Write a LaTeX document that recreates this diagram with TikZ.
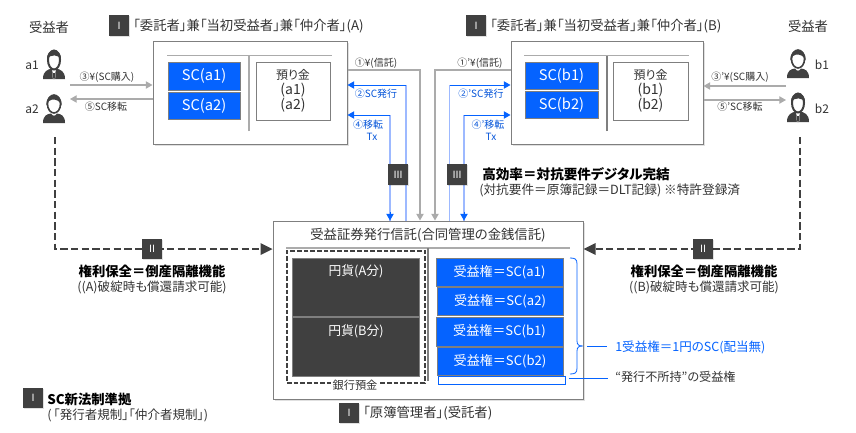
\documentclass[tikz,border=0pt]{standalone}
\usepackage{fontspec}
\setmainfont{Noto Sans CJK JP}[RawFeature={+palt}]
\usetikzlibrary{arrows.meta,shadows}
\definecolor{scblue}{HTML}{0563FF}
\definecolor{paleblue}{HTML}{9DB9FF}
\definecolor{darkbox}{HTML}{404040}
\definecolor{edgegray}{HTML}{7F7F7F}
\definecolor{flowgray}{HTML}{ABABAB}
\definecolor{inktext}{HTML}{333333}
\tikzset{
    sized/.style 2 args={minimum width=#1*0.75pt,minimum height=#2*0.75pt},
    trustbox/.style={draw=edgegray,fill=white,line width=0.75pt,inner sep=0pt,
        drop shadow={shadow xshift=1.2pt,shadow yshift=-1.2pt,fill=black,opacity=0.12}},
    scbox/.style={draw=edgegray,fill=scblue,line width=0.7pt,inner sep=0pt,text=white,font=\fontsize{11}{13}\selectfont},
    rightsbox/.style={draw=edgegray,fill=scblue,line width=0.7pt,inner sep=0pt,text=white,font=\fontsize{9.8}{12}\selectfont},
    cashbox/.style={draw=edgegray,fill=darkbox,line width=0.7pt,inner sep=0pt},
    cashtext/.style={inner sep=0pt,text=white,font=\fontsize{9.6}{12}\selectfont},
    badge/.style={fill=darkbox,text=white,inner sep=0pt,minimum width=15pt,minimum height=15.5pt,font=\fontsize{7.5}{9}\selectfont,
        drop shadow={shadow xshift=0.8pt,shadow yshift=-0.8pt,fill=black,opacity=0.12}},
    txt/.style={inner sep=0pt,text=inktext,font=\fontsize{10}{12}\selectfont},
    small/.style={inner sep=0pt,text=inktext,font=\fontsize{7.5}{9}\selectfont},
    note/.style={inner sep=0pt,text=inktext,font=\fontsize{9.4}{11}\selectfont},
    bluesmall/.style={small,text=scblue!85!black},
    strong/.style={inner sep=0pt,text=black,font=\fontsize{10}{12}\selectfont\bfseries},
    flow/.style={draw=flowgray,line width=0.8pt,-{Triangle[length=5pt,width=5.5pt]}},
    blueflow/.style={draw=scblue,line width=0.7pt,-{Triangle[length=5pt,width=5.5pt]}},
    paleflow/.style={draw=paleblue,line width=1.1pt},
    rightsflow/.style={draw=darkbox,line width=1.9pt,dash pattern=on 5.5pt off 2.5pt},
    thinline/.style={draw=flowgray,line width=0.8pt},
    bluelead/.style={draw=scblue,line width=0.6pt},
    mansign/.pic={
        \fill[darkbox] (-11,14.5) .. controls (-11,6) and (-6,5.5) .. (-3,4) -- (3,4) .. controls (6,5.5) and (11,6) .. (11,14.5) -- cycle;
        \fill[white] (-2,4) -- (2,4) -- (1.4,8) -- (1.2,14.5) -- (-1.2,14.5) -- (-1.4,8) -- cycle;
        \fill[darkbox] (-1,8.5) -- (1,8.5) -- (0.7,14.5) -- (-0.7,14.5) -- cycle;
        \draw[darkbox,fill=white,line width=1.5pt] (0,-4.5) ellipse (6 and 9.5);
        \fill[darkbox] (-7,-5) .. controls (-8,-17) and (8,-17) .. (7,-5) .. controls (5,-10) and (-4,-11) .. (-7,-5) -- cycle;
    },
    womansign/.pic={
        \fill[darkbox] (-11,14.5) .. controls (-11,7) and (-7,5.5) .. (-3,5) .. controls (-1,8) and (1,8) .. (3,5) .. controls (7,5.5) and (11,7) .. (11,14.5) -- cycle;
        \draw[darkbox,fill=white,line width=1.2pt] (0,-4.5) ellipse (6.5 and 9);
        \fill[darkbox] (-7.5,-3) .. controls (-9,-17) and (9,-17) .. (7.5,-3) .. controls (6,-8) and (2,-9) .. (-2,-9) .. controls (-4,-8.5) and (-6.5,-7) .. (-7.5,-3) -- cycle;
    },
}
\begin{document}
\begin{tikzpicture}[x=0.75pt,y=-0.75pt]
    \useasboundingbox (0,0) rectangle (856,432);
    % upper boxes
    \node[trustbox,sized={194}{103}] (boxA) at (250,92.5) {};
    \node[trustbox,sized={192}{103}] (boxB) at (607,92.5) {};
    \node[trustbox,sized={310}{178}] (trust) at (428,310) {};
    \coordinate (lineAl) at (167,55.5);
    \coordinate (lineAr) at (332,55.5);
    \coordinate (lineBl) at (524,55.5);
    \coordinate (lineBr) at (689,55.5);
    \coordinate (lineAb) at (249,131);
    \coordinate (lineBb) at (607,131);
    \draw[thinline] (lineAl) -- (lineAr);
    \draw[thinline] (lineBl) -- (lineBr);
    \draw[thinline] (lineAb) -- (lineAb |- lineAl);
    \draw[thinline,draw=edgegray] (lineBb) -- (lineBb |- lineBl);
    \node[scbox,sized={72}{28}] (sca1) at (204,76) {SC(a1)};
    \node[scbox,sized={72}{27}] (sca2) at (204,106) {SC(a2)};
    \node[scbox,sized={73}{27}] (scb1) at (561.5,75.5) {SC(b1)};
    \node[scbox,sized={73}{27}] (scb2) at (561.5,104.5) {SC(b2)};
    \node[draw=edgegray,line width=0.7pt,sized={74}{58},inner sep=0pt] (depA) at (293,91) {};
    \node[draw=edgegray,line width=0.7pt,sized={75}{58},inner sep=0pt] (depB) at (650.5,91) {};
    \node[txt,font=\fontsize{9}{10}\selectfont] (depAt) at (293,74.5) {預り金};
    \node[txt,align=center,font=\fontsize{10.5}{11.2}\selectfont] (depAm) at (293,97.5) {(a1)\\(a2)};
    \node[txt,font=\fontsize{9}{10}\selectfont] (depBt) at (650.5,74.5) {預り金};
    \node[txt,align=center,font=\fontsize{10.5}{11.2}\selectfont] (depBm) at (650.5,97.5) {(b1)\\(b2)};
    % titles
    \node[badge] (badgeIa) at (119,25.5) {Ⅰ};
    \node[txt,anchor=west] (titleA) at (133,26) {「委託者」兼「当初受益者」兼「仲介者」(A)};
    \node[badge] (badgeIb) at (476,25.5) {Ⅰ};
    \node[txt,anchor=west] (titleB) at (490,26) {「委託者」兼「当初受益者」兼「仲介者」(B)};
    % holders
    \node[txt] (holderA) at (49,27) {受益者};
    \node[txt] (holderB) at (808,26) {受益者};
    \node[small,font=\fontsize{9}{10}\selectfont] (a1) at (32,65) {a1};
    \node[small,font=\fontsize{9}{10}\selectfont] (a2) at (32,109) {a2};
    \node[small,font=\fontsize{9}{10}\selectfont] (b1) at (822,65) {b1};
    \node[small,font=\fontsize{9}{10}\selectfont] (b2) at (822,109) {b2};
    \pic (mana1) at (54,64.5) {mansign};
    \pic (womana2) at (54,108.5) {womansign};
    \pic (womanb1) at (798,63.5) {womansign};
    \pic (manb2) at (798,107.5) {mansign};
    \coordinate (payA) at (70,85);
    \coordinate (getA) at (70,99);
    \coordinate (payB) at (786,86);
    \coordinate (getB) at (786,100);
    \coordinate (rightsA) at (55,137);
    \coordinate (rightsB) at (800,137);
    % purchase and transfer
    \draw[flow] (payA) -- (boxA.west |- payA);
    \draw[flow] (boxA.west |- getA) -- (getA);
    \draw[flow] (payB) -- (boxB.east |- payB);
    \draw[flow] (boxB.east |- getB) -- (getB);
    \node[small] (buyA) at (107,77) {③¥(SC購入)};
    \node[small] (moveA) at (106,107) {⑤SC移転};
    \node[small] (buyB) at (740,77) {③'¥(SC購入)};
    \node[small] (moveB) at (740,107) {⑤'SC移転};
    % entrust
    \coordinate (entA) at (420,70);
    \coordinate (entB) at (435,70);
    \draw[flow] (boxA.east |- entA) -- (entA) -- (entA |- trust.north);
    \draw[flow] (boxB.west |- entB) -- (entB) -- (entB |- trust.north);
    \node[small] (entAt) at (376,63) {①¥(信託)};
    \node[small] (entBt) at (480,63) {①'¥(信託)};
    % issue and transfer
    \coordinate (issA) at (406,85);
    \coordinate (issB) at (449.5,85);
    \coordinate (txA) at (390,115);
    \coordinate (txB) at (464,115);
    \draw[paleflow] (issA |- trust.north) -- (issA);
    \draw[paleflow] (issB |- trust.north) -- (issB);
    \draw[blueflow] (issA) -- (boxA.east |- issA);
    \draw[blueflow] (issB) -- (boxB.west |- issB);
    \draw[paleflow] (txA |- trust.north) -- (txA);
    \draw[paleflow] (txB |- trust.north) -- (txB);
    \draw[blueflow] (txA) -- (boxA.east |- txA);
    \draw[blueflow] (txB) -- (boxB.west |- txB);
    \coordinate (tipAs) at (390,212);
    \coordinate (tipBs) at (464,212);
    \draw[blueflow] (tipAs) -- (tipAs |- trust.north);
    \draw[blueflow] (tipBs) -- (tipBs |- trust.north);
    \node[bluesmall] (issAt) at (376,94) {②SC発行};
    \node[bluesmall] (issBt) at (481,94) {②'SC発行};
    \node[bluesmall] (txAt) at (368,125) {④移転};
    \node[bluesmall] (txAu) at (372,137) {Tx};
    \node[bluesmall] (txBt) at (488,125) {④'移転};
    \node[bluesmall] (txBu) at (491,137) {Tx};
    \node[badge] (badgeIIIa) at (398,174.5) {Ⅲ};
    \node[badge] (badgeIIIb) at (457,174.5) {Ⅲ};
    \node[strong,anchor=west,font=\fontsize{10.2}{12}\selectfont\bfseries] (effTitle) at (482,174.5) {高効率＝対抗要件デジタル完結};
    \node[note,anchor=west,font=\fontsize{9.5}{11}\selectfont] (effText) at (479,190.5) {(対抗要件＝原簿記録＝DLT記録) ※特許登録済};
    % rights
    \coordinate (cornerA) at (55,249);
    \coordinate (cornerB) at (800,249);
    \draw[rightsflow] (rightsA) -- (cornerA) -- (259,249);
    \draw[rightsflow] (rightsB) -- (cornerB) -- (596,249);
    \fill[darkbox] (trust.west |- cornerA) -- ++(-12,-6) -- ++(0,12) -- cycle;
    \fill[darkbox] (trust.east |- cornerA) -- ++(12,-6) -- ++(0,12) -- cycle;
    \node[badge] (badgeIIa) at (152,249) {Ⅱ};
    \node[badge] (badgeIIb) at (703,249) {Ⅱ};
    \node[strong] (safeA) at (152,271) {権利保全＝倒産隔離機能};
    \node[note] (safeAt) at (152,287) {((A)破綻時も償還請求可能)};
    \node[strong] (safeB) at (704,271) {権利保全＝倒産隔離機能};
    \node[note] (safeBt) at (704,287) {((B)破綻時も償還請求可能)};
    % trust contents
    \node[txt] (trustTitle) at (428,235) {受益証券発行信託(合同管理の金銭信託)};
    \coordinate (ruleL) at (286,248);
    \coordinate (ruleR) at (570,248);
    \coordinate (ruleB) at (428,381);
    \draw[thinline] (ruleL) -- (ruleR);
    \draw[thinline,draw=edgegray] (ruleB) -- (ruleB |- ruleL);
    \node[cashbox,sized={127}{58}] (cashA) at (355.5,287) {};
    \node[cashbox,sized={127}{59}] (cashB) at (355.5,346.5) {};
    \node[cashtext] (cashAt) at (356,271) {円貨(A分)};
    \node[cashtext] (cashBt) at (356,331) {円貨(B分)};
    \node[draw=darkbox,line width=1.2pt,dash pattern=on 3.5pt off 1.5pt,sized={138}{132}] (bank) at (356,317) {};
    \node[small,fill=white,inner xsep=1pt,font=\fontsize{8.4}{10}\selectfont] (bankt) at (355,385) {銀行預金};
    \node[rightsbox,sized={127}{28}] (ra1) at (499.5,272) {受益権＝SC(a1)};
    \node[rightsbox,sized={126}{28}] (ra2) at (500,301) {受益権＝SC(a2)};
    \node[rightsbox,sized={127}{29}] (rb1) at (499.5,331.5) {受益権＝SC(b1)};
    \node[rightsbox,sized={126}{28}] (rb2) at (500,361) {受益権＝SC(b2)};
    \node[draw=scblue,fill=white,line width=0.7pt,sized={127}{8},inner sep=0pt] (unheld) at (501.5,380) {};
    % brace
    \coordinate (braceT) at (570,258);
    \coordinate (braceB) at (570,374);
    \coordinate (braceM) at (583,346);
    \draw[bluelead] (braceT) .. controls (575,258) and (577,259) .. (577,264) -- (577,341)
        .. controls (577,345) and (579,346) .. (braceM) .. controls (579,346) and (577,347) .. (577,351) -- (577,368)
        .. controls (577,373) and (575,374) .. (braceB);
    \coordinate (leadA) at (587,346);
    \coordinate (leadB) at (607,346);
    \coordinate (leadC) at (608,378);
    \draw[bluelead] (leadA) -- (leadB);
    \draw[bluelead] (unheld.east |- leadC) ++(4,0) -- (leadC);
    \node[note,anchor=west,text=scblue] (oneText) at (615,347) {1受益権＝1円のSC(配当無)};
    \node[note,anchor=west,font=\fontsize{9.1}{11}\selectfont] (unheldText) at (615,377) {“発行不所持”の受益権};
    % footer
    \node[badge] (badgeIc) at (349,413) {Ⅰ};
    \node[txt,anchor=west] (ledgerText) at (363,413) {「原簿管理者」(受託者)};
    \node[badge] (badgeId) at (33,398) {Ⅰ};
    \node[strong,anchor=west] (lawTitle) at (47,399) {SC新法制準拠};
    \node[note,anchor=west] (lawText) at (47,415) {(\kern1.5pt「発行者規制」「仲介者規制」)};
\end{tikzpicture}
\end{document}
